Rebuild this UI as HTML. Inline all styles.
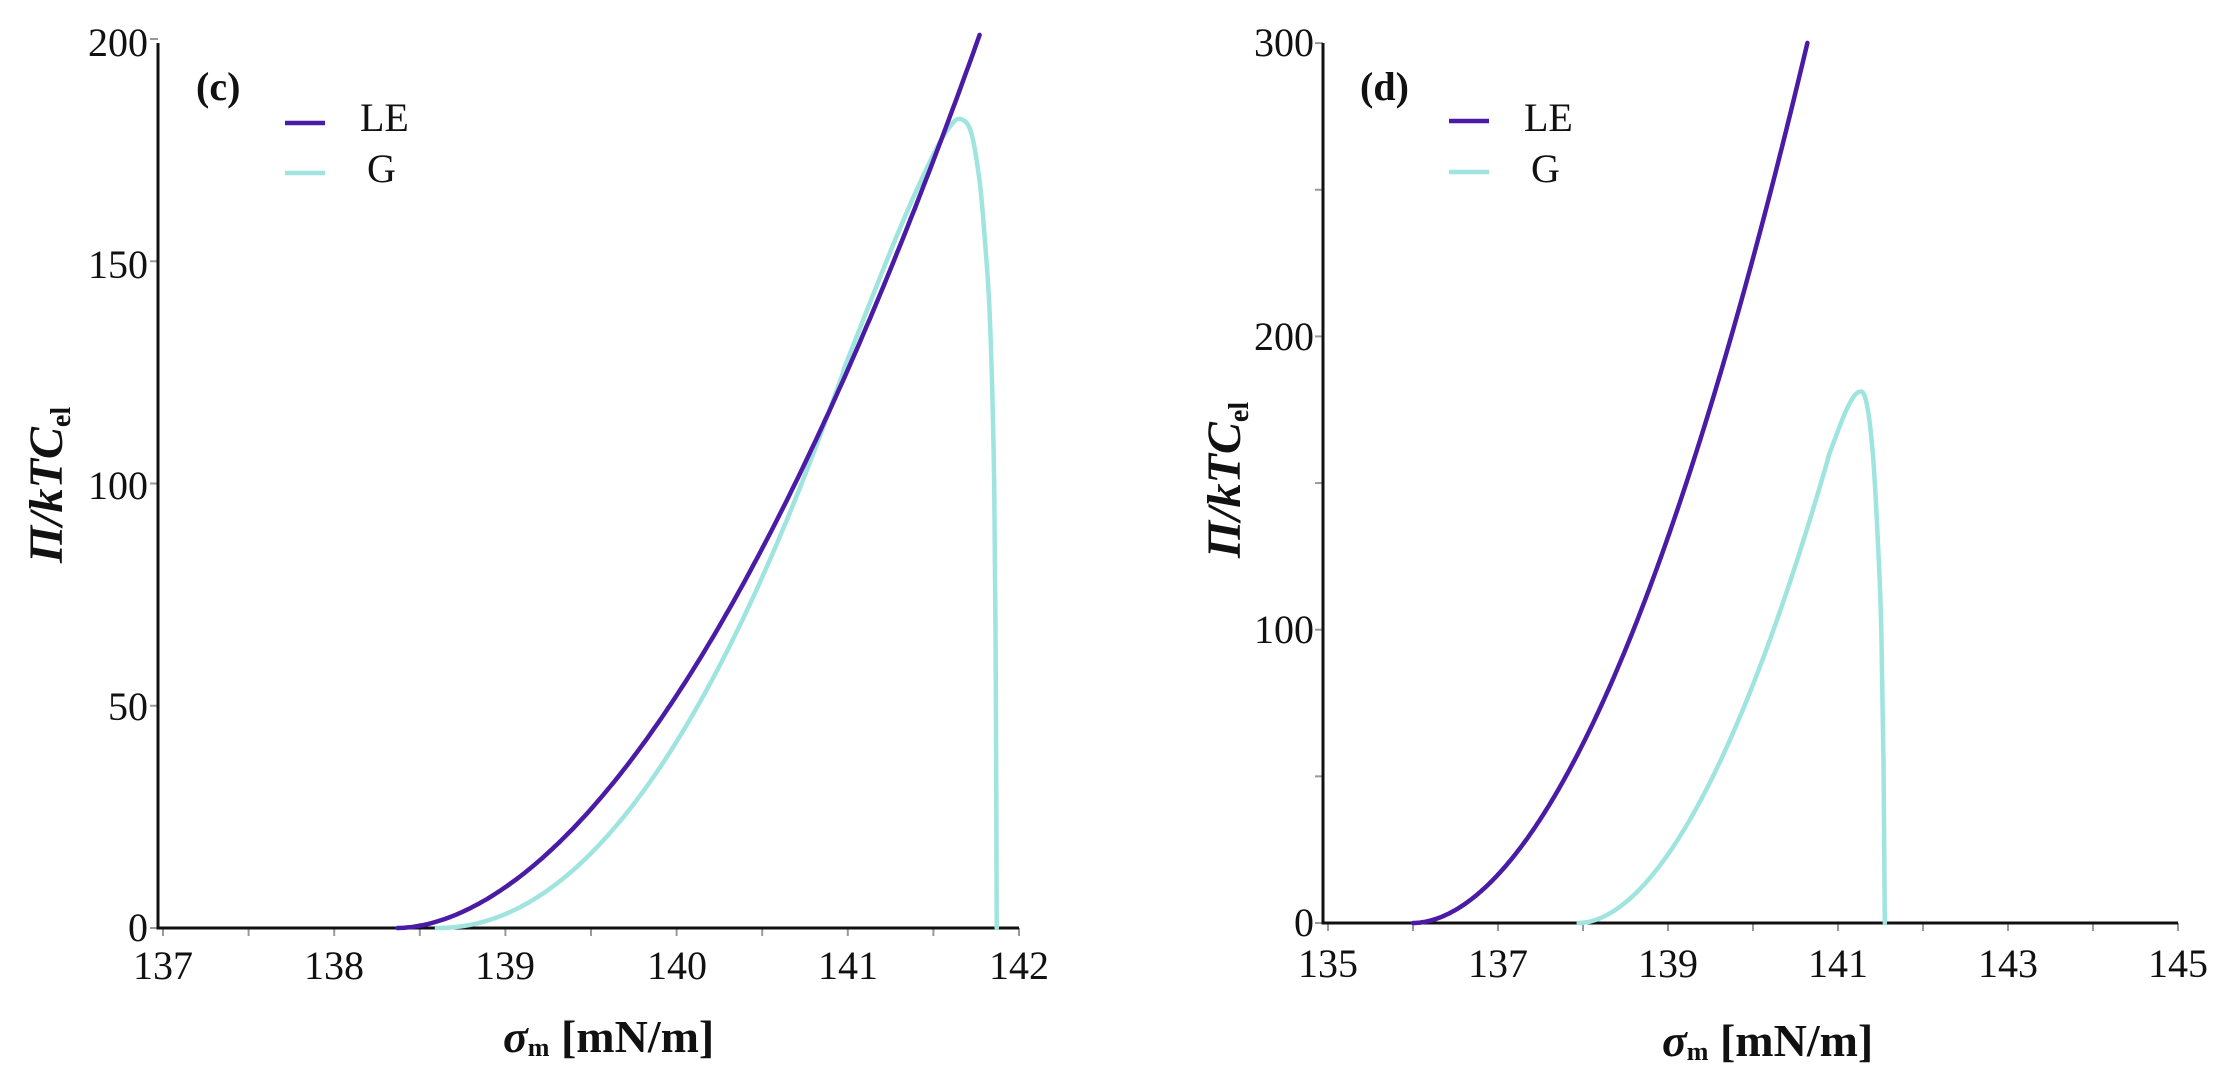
<!DOCTYPE html>
<html><head><meta charset="utf-8"><style>
html,body{margin:0;padding:0;background:#fff;}
svg{display:block;}
text{font-family:"Liberation Serif",serif;fill:#111;}
</style></head><body>
<svg id="s" width="2227" height="1089" viewBox="0 0 2227 1089" xmlns="http://www.w3.org/2000/svg">
<rect width="2227" height="1089" fill="#fff"/>
<g id="g"></g>
<g font-size="40">
<text x="148" y="941" text-anchor="end">0</text>
<text x="148" y="720" text-anchor="end">50</text>
<text x="148" y="499" text-anchor="end">100</text>
<text x="148" y="278" text-anchor="end">150</text>
<text x="148" y="56" text-anchor="end">200</text>
<text x="163" y="979" text-anchor="middle">137</text>
<text x="334" y="979" text-anchor="middle">138</text>
<text x="505" y="979" text-anchor="middle">139</text>
<text x="677" y="979" text-anchor="middle">140</text>
<text x="848" y="979" text-anchor="middle">141</text>
<text x="1019" y="979" text-anchor="middle">142</text>
<text x="1314" y="936" text-anchor="end">0</text>
<text x="1314" y="643" text-anchor="end">100</text>
<text x="1314" y="350" text-anchor="end">200</text>
<text x="1314" y="56" text-anchor="end">300</text>
<text x="1328" y="977" text-anchor="middle">135</text>
<text x="1498" y="977" text-anchor="middle">137</text>
<text x="1668" y="977" text-anchor="middle">139</text>
<text x="1838" y="977" text-anchor="middle">141</text>
<text x="2008" y="977" text-anchor="middle">143</text>
<text x="2178" y="977" text-anchor="middle">145</text>
<text x="360" y="131">LE</text>
<text x="367" y="182">G</text>
<text x="1524" y="131">LE</text>
<text x="1531" y="182">G</text>
</g>
<text x="196" y="100" font-size="40" font-weight="bold">(c)</text>
<text x="1360" y="100" font-size="40" font-weight="bold">(d)</text>
<line x1="285" y1="123" x2="325" y2="123" stroke="#4a1ca6" stroke-width="4.5"/>
<line x1="285" y1="173" x2="325" y2="173" stroke="#9fe4df" stroke-width="4.5"/>
<line x1="1449" y1="121" x2="1489" y2="121" stroke="#4a1ca6" stroke-width="4.5"/>
<line x1="1449" y1="172" x2="1489" y2="172" stroke="#9fe4df" stroke-width="4.5"/>
<text x="503" y="1052" font-size="46" font-weight="bold"><tspan font-style="italic">σ</tspan><tspan font-size="26" dy="4">m</tspan><tspan dy="-4"> [mN/m]</tspan></text>
<text x="1662" y="1056" font-size="46" font-weight="bold"><tspan font-style="italic">σ</tspan><tspan font-size="26" dy="4">m</tspan><tspan dy="-4"> [mN/m]</tspan></text>
<text transform="translate(62,485) rotate(-90)" text-anchor="middle" font-size="48" font-weight="bold" font-style="italic">Π/kTC<tspan font-style="normal" font-size="28" dy="8">el</tspan></text>
<text transform="translate(1240,480) rotate(-90)" text-anchor="middle" font-size="48" font-weight="bold" font-style="italic">Π/kTC<tspan font-style="normal" font-size="28" dy="8">el</tspan></text>
</svg>
<script>
(function(){
var g=document.getElementById('g'),NS='http://www.w3.org/2000/svg';
function el(t,a){var e=document.createElementNS(NS,t);for(var k in a)e.setAttribute(k,a[k]);g.appendChild(e);return e;}
function Lx(s){return 163+(s-137)*171.2;} function Ly(p){return 928-p*4.445;}
function Rx(s){return 1328+(s-135)*85;} function Ry(p){return 923-p*2.933;}
for(var s=137;s<=142.01;s+=0.5){el('line',{x1:Lx(s),y1:928,x2:Lx(s),y2:936,stroke:'#999','stroke-width':2});}
for(var p=0;p<=200;p+=50){el('line',{x1:150,y1:Ly(p),x2:158,y2:Ly(p),stroke:'#999','stroke-width':2});}
for(var s=135;s<=145.01;s+=1){el('line',{x1:Rx(s),y1:923,x2:Rx(s),y2:931,stroke:'#999','stroke-width':2});}
for(var p=0;p<=300;p+=50){el('line',{x1:1315,y1:Ry(p),x2:1323,y2:Ry(p),stroke:'#999','stroke-width':2});}
el('path',{d:'M158,43 L158,928 L1019,928',fill:'none',stroke:'#111','stroke-width':3});
el('path',{d:'M1323,43 L1323,923 L2178,923',fill:'none',stroke:'#111','stroke-width':3});
function cr(pts){var d='';
for(var i=0;i<pts.length-1;i++){var p0=pts[Math.max(0,i-1)],p1=pts[i],p2=pts[i+1],p3=pts[Math.min(pts.length-1,i+2)];
var c1=[p1[0]+(p2[0]-p0[0])/6,p1[1]+(p2[1]-p0[1])/6],c2=[p2[0]-(p3[0]-p1[0])/6,p2[1]-(p3[1]-p1[1])/6];
d+=' C'+c1[0].toFixed(1)+','+c1[1].toFixed(1)+' '+c2[0].toFixed(1)+','+c2[1].toFixed(1)+' '+p2[0].toFixed(1)+','+p2[1].toFixed(1);}
return d;}
function curve(d,c){el('path',{d:d,fill:'none',stroke:c,'stroke-width':4.5,'stroke-linecap':'round','stroke-linejoin':'round'});}
var LE='#4a1ca6',G='#9fe4df';
function gcurve(X,Y,s0,s1,c,q,tail){
  var pts=[];for(var s=s0;s<s1-1e-9;s+=0.02){pts.push([X(s),Y(c*Math.pow(s-s0,q))]);}
  var all=pts.concat(tail.map(function(t){return [X(t[0]),Y(t[1])];}));
  // linear for formula part, catmull for tail (including last formula points)
  var n=pts.length;var d='M'+pts.slice(0,n-2).map(function(q){return q[0].toFixed(1)+','+q[1].toFixed(1);}).join(' L');
  var sub=all.slice(n-3);d+=cr(sub).replace(/^/, '');
  return d;}
// Left G
curve(gcurve(Lx,Ly,138.6,141.0,20.9,2.07,[[141.0,20.9*Math.pow(2.4,2.07)],[141.3,157],[141.5,174],[141.6,180.5],[141.66,182],[141.72,179],[141.77,168],[141.80,155],[141.83,137],[141.855,100],[141.865,50],[141.87,0]]),G);
// Left LE
var pts=[];for(var s=138.37;s<=141.77;s+=0.02){var d=s-138.37;pts.push([Lx(s),Ly(21.4*Math.pow(d,1.83))]);}
pts.push([Lx(141.77),Ly(21.4*Math.pow(3.4,1.83))]);
curve('M'+pts.map(function(q){return q[0].toFixed(1)+','+q[1].toFixed(1);}).join(' L'),LE);
// Right G
curve(gcurve(Rx,Ry,137.95,140.9,21.4,1.86,[[140.9,21.4*Math.pow(2.95,1.86)],[141.1,175],[141.24,181],[141.33,178],[141.41,160],[141.47,130],[141.51,100],[141.535,55],[141.55,0]]),G);
// Right LE
pts=[];for(var s=136.0;s<=140.64;s+=0.02){var d=s-136.0;pts.push([Rx(s),Ry(16.5*Math.pow(d,1.89))]);}
pts.push([Rx(140.64),Ry(16.5*Math.pow(4.64,1.89))]);
curve('M'+pts.map(function(q){return q[0].toFixed(1)+','+q[1].toFixed(1);}).join(' L'),LE);
})();
</script>
</body></html>
